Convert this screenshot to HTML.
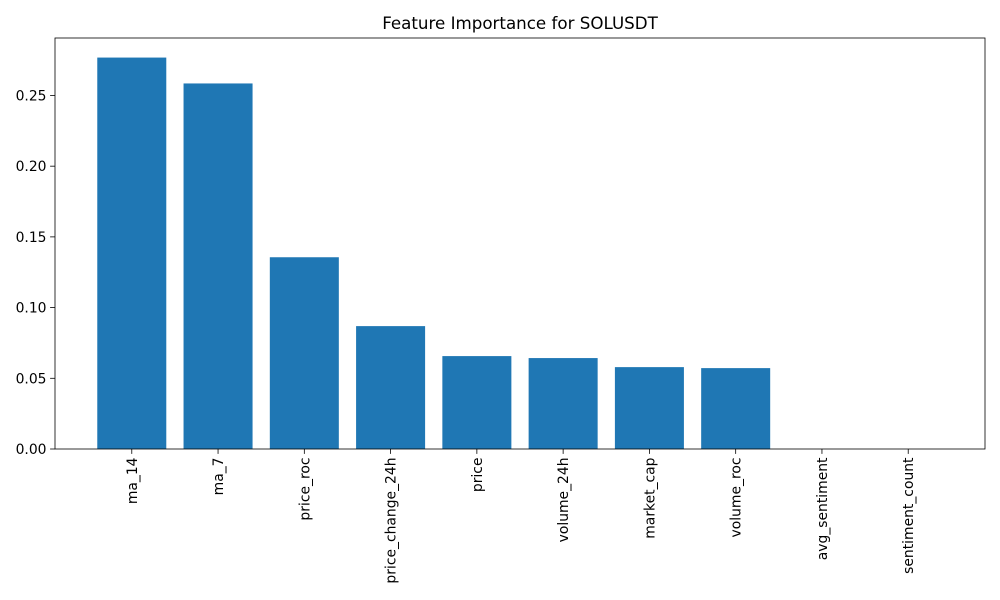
<!DOCTYPE html>
<html><head><meta charset="utf-8"><style>
body{margin:0;background:#fff;}
svg{display:block;font-family:"DejaVu Sans","Liberation Sans",sans-serif;}
</style></head><body>
<svg id="chart" width="1000" height="600">
<rect width="1000" height="600" fill="#fff"/>
<text x="520" y="29" text-anchor="middle" font-size="16.7">Feature Importance for SOLUSDT</text>
<g id="bars"></g><g id="axes"></g>
</svg>
<script>
const categories=["ma_14","ma_7","price_roc","price_change_24h","price","volume_24h","market_cap","volume_roc","avg_sentiment","sentiment_count"];
const values=[0.2768,0.2585,0.1356,0.0869,0.0657,0.0643,0.0579,0.0572,0,0];
const yTicks=[0,0.05,0.10,0.15,0.20,0.25];
const yTickLabels=["0.00","0.05","0.10","0.15","0.20","0.25"];
const L=55,R=985,T=38,B=449;
const ns="http://www.w3.org/2000/svg";
const n=categories.length;
const xmin=-0.4-0.05*(n-0.2),xmax=n-1+0.4+0.05*(n-0.2);
const ymax=Math.max(...values)*1.05;
const x=v=>L+(v-xmin)/(xmax-xmin)*(R-L);
const y=v=>B-v/ymax*(B-T);
function mk(tag,attrs,parent){const e=document.createElementNS(ns,tag);for(const k in attrs)e.setAttribute(k,attrs[k]);parent.appendChild(e);return e;}
const bars=document.getElementById('bars'),axes=document.getElementById('axes');
values.forEach((v,i)=>{
 const r=mk('rect',{x:x(i-0.4),y:y(v),width:x(i+0.4)-x(i-0.4),height:B-y(v),fill:'#1f77b4'},bars);
 
 
 const t=mk('line',{x1:x(i),x2:x(i),y1:B,y2:B+4.9,stroke:'#000','stroke-width':0.8},axes);
 
 
 const lb=mk('text',{x:0,y:0,transform:`translate(${x(i)+5},${B+8.5}) rotate(-90)`,'text-anchor':'end','font-size':13.9},axes);
 lb.textContent=categories[i];
 
 
});
yTicks.forEach((v,i)=>{
 const t=mk('line',{x1:L-4.9,x2:L,y1:y(v),y2:y(v),stroke:'#000','stroke-width':0.8},axes);
 
 
 const lb=mk('text',{x:L-8.5,y:y(v)+5,'text-anchor':'end','font-size':13.9},axes);
 lb.textContent=yTickLabels[i];
 
 
});
const fr=mk('rect',{x:L,y:T,width:R-L,height:B-T,fill:'none',stroke:'#000','stroke-width':0.8},axes);


</script>
</body></html>
